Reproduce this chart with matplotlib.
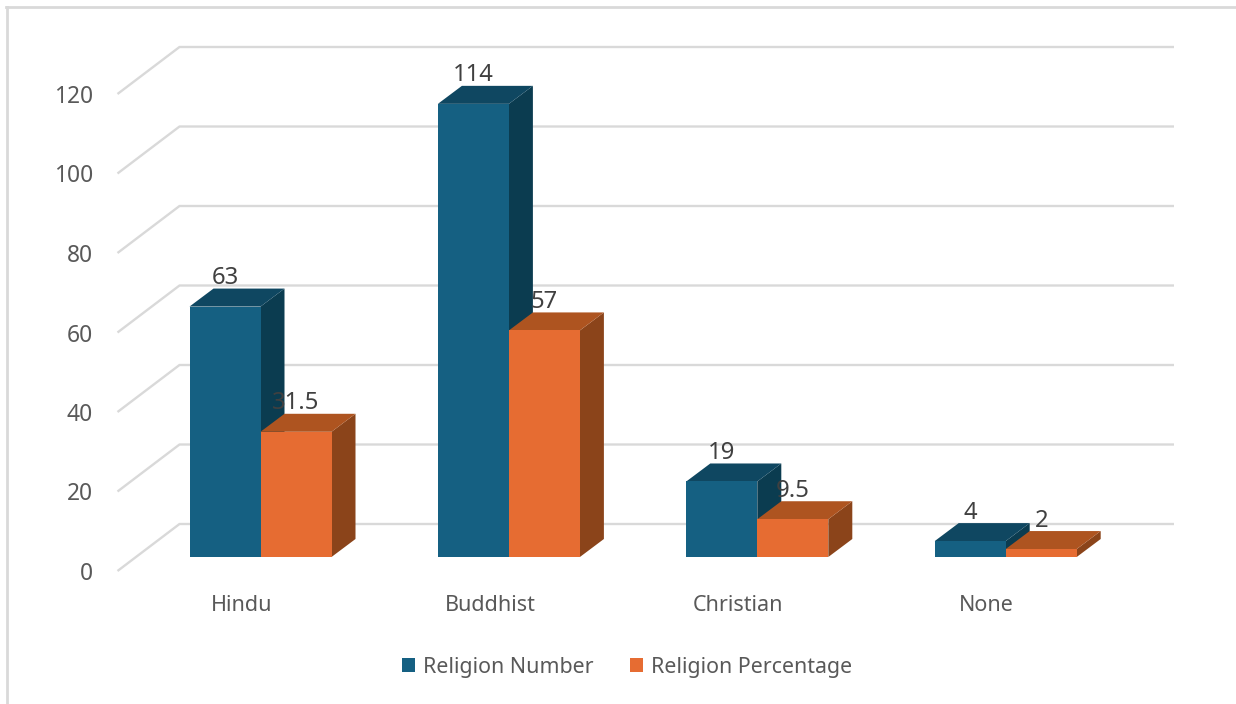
import matplotlib
matplotlib.use("Agg")
import matplotlib.pyplot as plt
from matplotlib.patches import Polygon, Patch
from matplotlib.lines import Line2D

categories = ["Hindu", "Buddhist", "Christian", "None"]
religion_number = [63, 114, 19, 4]
religion_percentage = [31.5, 57, 9.5, 2]
y_ticks = [0, 20, 40, 60, 80, 100, 120]

plt.rcParams["font.family"] = ["Noto Sans", "DejaVu Sans"]
W, H = 1236, 704
fig = plt.figure(figsize=(W / 100, H / 100), dpi=100, facecolor="white")
ax = fig.add_axes([100 / W, (H - 590) / H, 1136 / W, 590 / H])

PX_Y = 3.975          # pixels per value unit
PX_X = 248.4          # pixels per category
ax.set_xlim((100 - 260.5) / PX_X, (1236 - 260.5) / PX_X)
ax.set_ylim(-19 / PX_Y, 571 / PX_Y)
for s in ax.spines.values():
    s.set_visible(False)

# depth helpers (pixel offsets turned into data units)
wall_dx, wall_dy = 62 / PX_X, 47 / PX_Y
bar_dx, bar_dy = 24 / PX_X, 18 / PX_Y
bar_base = 14 / PX_Y
bar_w = 71 / PX_X
x_left_wall = (117.5 - 260.5) / PX_X
x_right_wall = (1174 - 260.5) / PX_X

GRID = "#D9D9D9"
for v in y_ticks:
    ax.plot([x_left_wall, x_left_wall + wall_dx, x_right_wall],
            [v, v + wall_dy, v + wall_dy], color=GRID, lw=1.7,
            solid_capstyle="butt", zorder=1, clip_on=False)


def draw_series(i, offset, value, front, top, side, z):
    x0 = i + offset
    x1 = x0 + bar_w
    y0 = bar_base
    y1 = bar_base + value
    ax.add_patch(Polygon([(x1, y0), (x1 + bar_dx, y0 + bar_dy), (x1 + bar_dx, y1 + bar_dy), (x1, y1)],
                         closed=True, fc=side, ec="none", zorder=z))
    ax.add_patch(Polygon([(x0, y1), (x1, y1), (x1 + bar_dx, y1 + bar_dy), (x0 + bar_dx, y1 + bar_dy)],
                         closed=True, fc=top, ec="none", zorder=z))
    ax.bar(x0, value, bar_w, bottom=y0, align="edge", color=front, lw=0, zorder=z + 0.1)
    ax.text(x0 + bar_w / 2, y1 + bar_dy + 10.5 / PX_Y, f"{value:g}", ha="center", va="center",
            fontsize=17.2, color="#404040", zorder=10)


NAVY = ("#156082", "#0F4761", "#0B3C50")
ORANGE = ("#E66C32", "#AE5420", "#8B441A")
for i in range(len(categories)):
    draw_series(i, -bar_w, religion_number[i], *NAVY, 3)
    draw_series(i, 0, religion_percentage[i], *ORANGE, 4)

ax.set_yticks(y_ticks)
ax.set_xticks([i - 19 / PX_X for i in range(len(categories))])
ax.set_xticklabels(categories)
ax.tick_params(axis="y", length=0, pad=5, labelsize=16.4, labelcolor="#595959")
ax.tick_params(axis="x", length=0, pad=3.5, labelsize=15.5, labelcolor="#595959")

handles = [Patch(fc=NAVY[0], ec="none"), Patch(fc=ORANGE[0], ec="none")]
fig.legend(handles, ["Religion Number", "Religion Percentage"], loc="center",
           bbox_to_anchor=(627 / W, 1 - 667 / H), ncol=2, frameon=False,
           fontsize=15.4, labelcolor="#595959", handlelength=0.6, handleheight=0.6,
           handletextpad=0.37, columnspacing=1.73, borderpad=0, borderaxespad=0)

# chart-area border (top and left only)
fig.add_artist(Line2D([7.3 / W, 7.3 / W], [0, 1 - 7 / H], color=GRID, lw=2))
fig.add_artist(Line2D([6 / W, 1], [1 - 7.3 / H, 1 - 7.3 / H], color=GRID, lw=2))

fig.savefig("out.png", dpi=100, facecolor="white")
